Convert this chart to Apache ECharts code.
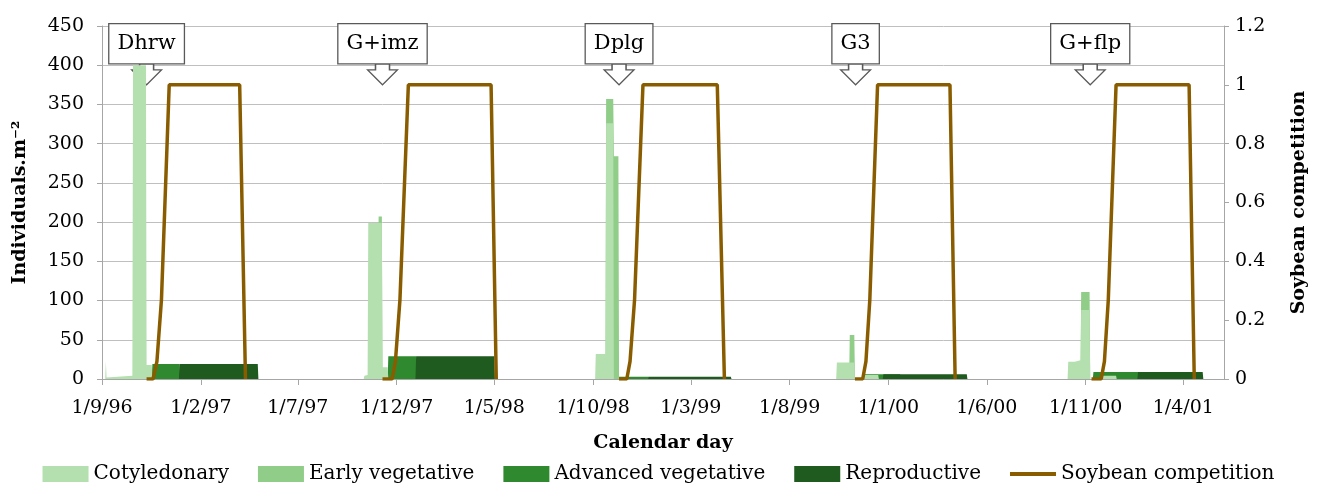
<!DOCTYPE html>
<html><head><meta charset="utf-8">
<script src="https://cdn.jsdelivr.net/npm/echarts@6/dist/echarts.min.js"></script>
<style>html,body{margin:0;padding:0;background:#fff}#c{width:1317px;height:491px}</style>
</head><body><div id="c"></div>
<script>
const tickDates = ['1996-09-01','1997-02-01','1997-07-01','1997-12-01','1998-05-01','1998-10-01','1999-03-01','1999-08-01','2000-01-01','2000-06-01','2000-11-01','2001-04-01'];
const tickLabels = ['1/9/96','1/2/97','1/7/97','1/12/97','1/5/98','1/10/98','1/3/99','1/8/99','1/1/00','1/6/00','1/11/00','1/4/01'];
const xRange = ['1996-09-01','2001-06-03'];

const cotyledonary = [
['1996-09-01',0],['1996-09-06',0],['1996-09-07',22],['1996-09-08',2],['1996-10-18',4],['1996-10-19',400],['1996-11-08',400],['1996-11-09',18],['1996-11-17',18],['1996-11-18',0],
['1997-10-11',0],['1997-10-12',4],['1997-10-17',5],['1997-10-18',199],['1997-11-08',199],['1997-11-09',15],['1997-11-17',15],['1997-11-18',0],
['1998-09-05',0],['1998-09-06',1],['1998-09-07',0],
['1998-10-04',0],['1998-10-05',32],['1998-10-20',32],['1998-10-21',326],['1998-11-01',326],['1998-11-02',0],
['1999-10-12',0],['1999-10-13',21],['1999-11-09',21],['1999-11-10',0],['1999-11-23',0],['1999-11-24',5],['1999-12-16',5],['1999-12-17',0],
['2000-10-04',0],['2000-10-05',22],['2000-10-15',22],['2000-10-16',24],['2000-10-24',24],['2000-10-25',88],['2000-11-07',88],['2000-11-08',0],['2000-11-23',0],['2000-11-24',4],['2000-12-18',4],['2000-12-19',0],
['2001-06-03',0]];

const earlyVegetative = [
['1996-09-01',0],
['1997-11-02',0],['1997-11-03',207],['1997-11-08',207],['1997-11-09',0],
['1998-10-20',0],['1998-10-21',357],['1998-11-01',357],['1998-11-02',284],['1998-11-09',284],['1998-11-10',0],
['1999-11-01',0],['1999-11-02',56],['1999-11-09',56],['1999-11-10',0],
['2000-10-24',0],['2000-10-25',111],['2000-11-07',111],['2000-11-08',0],
['2001-06-03',0]];

const advancedVegetative = [
['1996-09-01',0],['1996-11-17',0],['1996-11-18',19],['1996-12-30',19],['1996-12-31',0],
['1997-11-17',0],['1997-11-18',29],['1997-12-31',29],['1998-01-01',0],
['1998-11-09',0],['1998-11-10',3],['1998-12-26',3],['1998-12-27',0],
['1999-11-23',0],['1999-11-24',6],['2000-01-19',6],['2000-01-20',0],
['2000-11-12',0],['2000-11-13',9],['2001-01-21',9],['2001-01-22',0],
['2001-06-03',0]];

const reproductive = [
['1996-09-01',0],['1996-12-29',0],['1996-12-30',19],['1997-04-30',19],['1997-05-01',0],
['1997-12-30',0],['1997-12-31',29],['1998-05-01',29],['1998-05-02',0],
['1998-12-25',0],['1998-12-26',3],['1999-05-02',3],['1999-05-03',0],
['1999-12-23',0],['1999-12-24',6],['2000-05-01',6],['2000-05-02',0],
['2001-01-20',0],['2001-01-21',9],['2001-05-01',9],['2001-05-02',0],
['2001-06-03',0]];

const soybeanCompetition = [
['1996-11-09',0],['1996-11-19',0],['1996-11-25',0.06],['1996-12-02',0.27],['1996-12-14',1],['1997-04-02',1],['1997-04-11',0],['1997-06-01',null],
['1997-11-09',0],['1997-11-24',0],['1997-11-29',0.06],['1997-12-06',0.27],['1997-12-19',1],['1998-04-26',1],['1998-05-04',0],['1998-07-01',null],
['1998-11-10',0],['1998-11-22',0],['1998-11-27',0.06],['1998-12-04',0.27],['1998-12-17',1],['1999-04-11',1],['1999-04-22',0],['1999-07-01',null],
['1999-11-10',0],['1999-11-22',0],['1999-11-27',0.06],['1999-12-03',0.27],['1999-12-15',1],['2000-04-05',1],['2000-04-13',0],['2000-07-01',null],
['2000-11-10',0],['2000-11-25',0],['2000-11-30',0.06],['2000-12-06',0.27],['2000-12-18',1],['2001-04-10',1],['2001-04-18',0]];

const calloutNames = ['Dhrw','G+imz','Dplg','G3','G+flp'];
const calloutDates = ['1996-11-09','1997-11-09','1998-11-10','1999-11-11','2000-11-08'];

function toTs(s){const p=s.split('-').map(Number);return Date.UTC(p[0],p[1]-1,p[2]);}
function conv(a){return a.map(p=>[toTs(p[0]),p[1]==null?'-':p[1]]);}
const tickTs = tickDates.map(toTs);

const FONT = 'DejaVu Serif';
const C = {cot:'#b4dfae', early:'#8fcd88', adv:'#2f8a2f', rep:'#1f5a1f', soy:'#8a5c00'};

function area(name,data,color,z){
  return {name, type:'line', data:conv(data), symbol:'none', z,
    lineStyle:{width:0,color}, itemStyle:{color}, areaStyle:{color,opacity:1}};
}

const chart = echarts.init(document.getElementById('c'), null, {renderer:'canvas'});
chart.setOption({
  animation:false,
  textStyle:{fontFamily:FONT},
  grid:{left:102,right:91,top:26,bottom:112},
  legend:{
    top:459, left:'center', itemWidth:46, itemHeight:16, itemGap:29,
    textStyle:{fontFamily:FONT,fontSize:20,color:'#000'},
    data:[
      {name:'Cotyledonary',icon:'rect'},
      {name:'Early vegetative',icon:'rect'},
      {name:'Advanced vegetative',icon:'rect'},
      {name:'Reproductive',icon:'rect'},
      {name:'Soybean competition',icon:'path://M0,0 L46,0 L46,4 L0,4 Z'}
    ]
  },
  xAxis:{
    type:'value', min:toTs(xRange[0]), max:toTs(xRange[1]), scale:true,
    name:'Calendar day', nameLocation:'middle', nameGap:55,
    nameTextStyle:{fontFamily:FONT,fontSize:19,fontWeight:'bold',color:'#000'},
    axisLine:{lineStyle:{color:'#a6a6a6',width:1}},
    axisTick:{show:true,length:6,lineStyle:{color:'#a6a6a6'},customValues:tickTs},
    axisLabel:{customValues:tickTs,margin:20,fontFamily:FONT,fontSize:19,color:'#000',
      formatter:function(v){const i=tickTs.indexOf(v);return i>=0?tickLabels[i]:'';}},
    splitLine:{show:false}, minorTick:{show:false}
  },
  yAxis:[
    {type:'value',min:0,max:450,interval:50,
     name:'Individuals.m\u207B\u00B2',nameLocation:'middle',nameGap:72,
     nameTextStyle:{fontFamily:FONT,fontSize:19,fontWeight:'bold',color:'#000'},
     axisLine:{show:true,lineStyle:{color:'#a6a6a6'}},
     axisTick:{show:true,length:5,lineStyle:{color:'#a6a6a6'}},
     axisLabel:{margin:18,fontFamily:FONT,fontSize:19,color:'#000'},
     splitLine:{show:true,lineStyle:{color:'#bfbfbf',width:1}}},
    {type:'value',min:0,max:1.2,interval:0.2,position:'right',
     name:'Soybean competition',nameLocation:'middle',nameGap:66,
     nameTextStyle:{fontFamily:FONT,fontSize:19,fontWeight:'bold',color:'#000'},
     axisLine:{show:true,lineStyle:{color:'#a6a6a6'}},
     axisTick:{show:true,length:5,lineStyle:{color:'#a6a6a6'}},
     axisLabel:{margin:11,fontFamily:FONT,fontSize:19,color:'#000'},
     splitLine:{show:false}}
  ],
  series:[
    area('Cotyledonary',cotyledonary,C.cot,5),
    area('Early vegetative',earlyVegetative,C.early,4),
    area('Advanced vegetative',advancedVegetative,C.adv,2),
    area('Reproductive',reproductive,C.rep,3),
    {name:'Soybean competition',type:'line',yAxisIndex:1,data:conv(soybeanCompetition),
     symbol:'none',connectNulls:false,z:6,
     lineStyle:{width:3.5,color:C.soy},itemStyle:{color:C.soy},
     markPoint:{
       symbol:'path://M-7,0 L7,0 L7,6 L15,6 L0,21 L-15,6 L-7,6 Z',
       symbolSize:[30,21], symbolOffset:[0,'-50%'], symbolKeepAspect:false,
       itemStyle:{color:'#fff',borderColor:'#595959',borderWidth:1.3},
       label:{show:true,position:'top',distance:0,formatter:'{b}',
         fontFamily:FONT,fontSize:21,color:'#000',lineHeight:25,
         backgroundColor:'#fff',borderColor:'#595959',borderWidth:1.3,padding:[7,8,7,8]},
       data:calloutNames.map((n,i)=>({name:n,coord:[toTs(calloutDates[i]),1]}))
     }}
  ]
});
</script></body></html>
